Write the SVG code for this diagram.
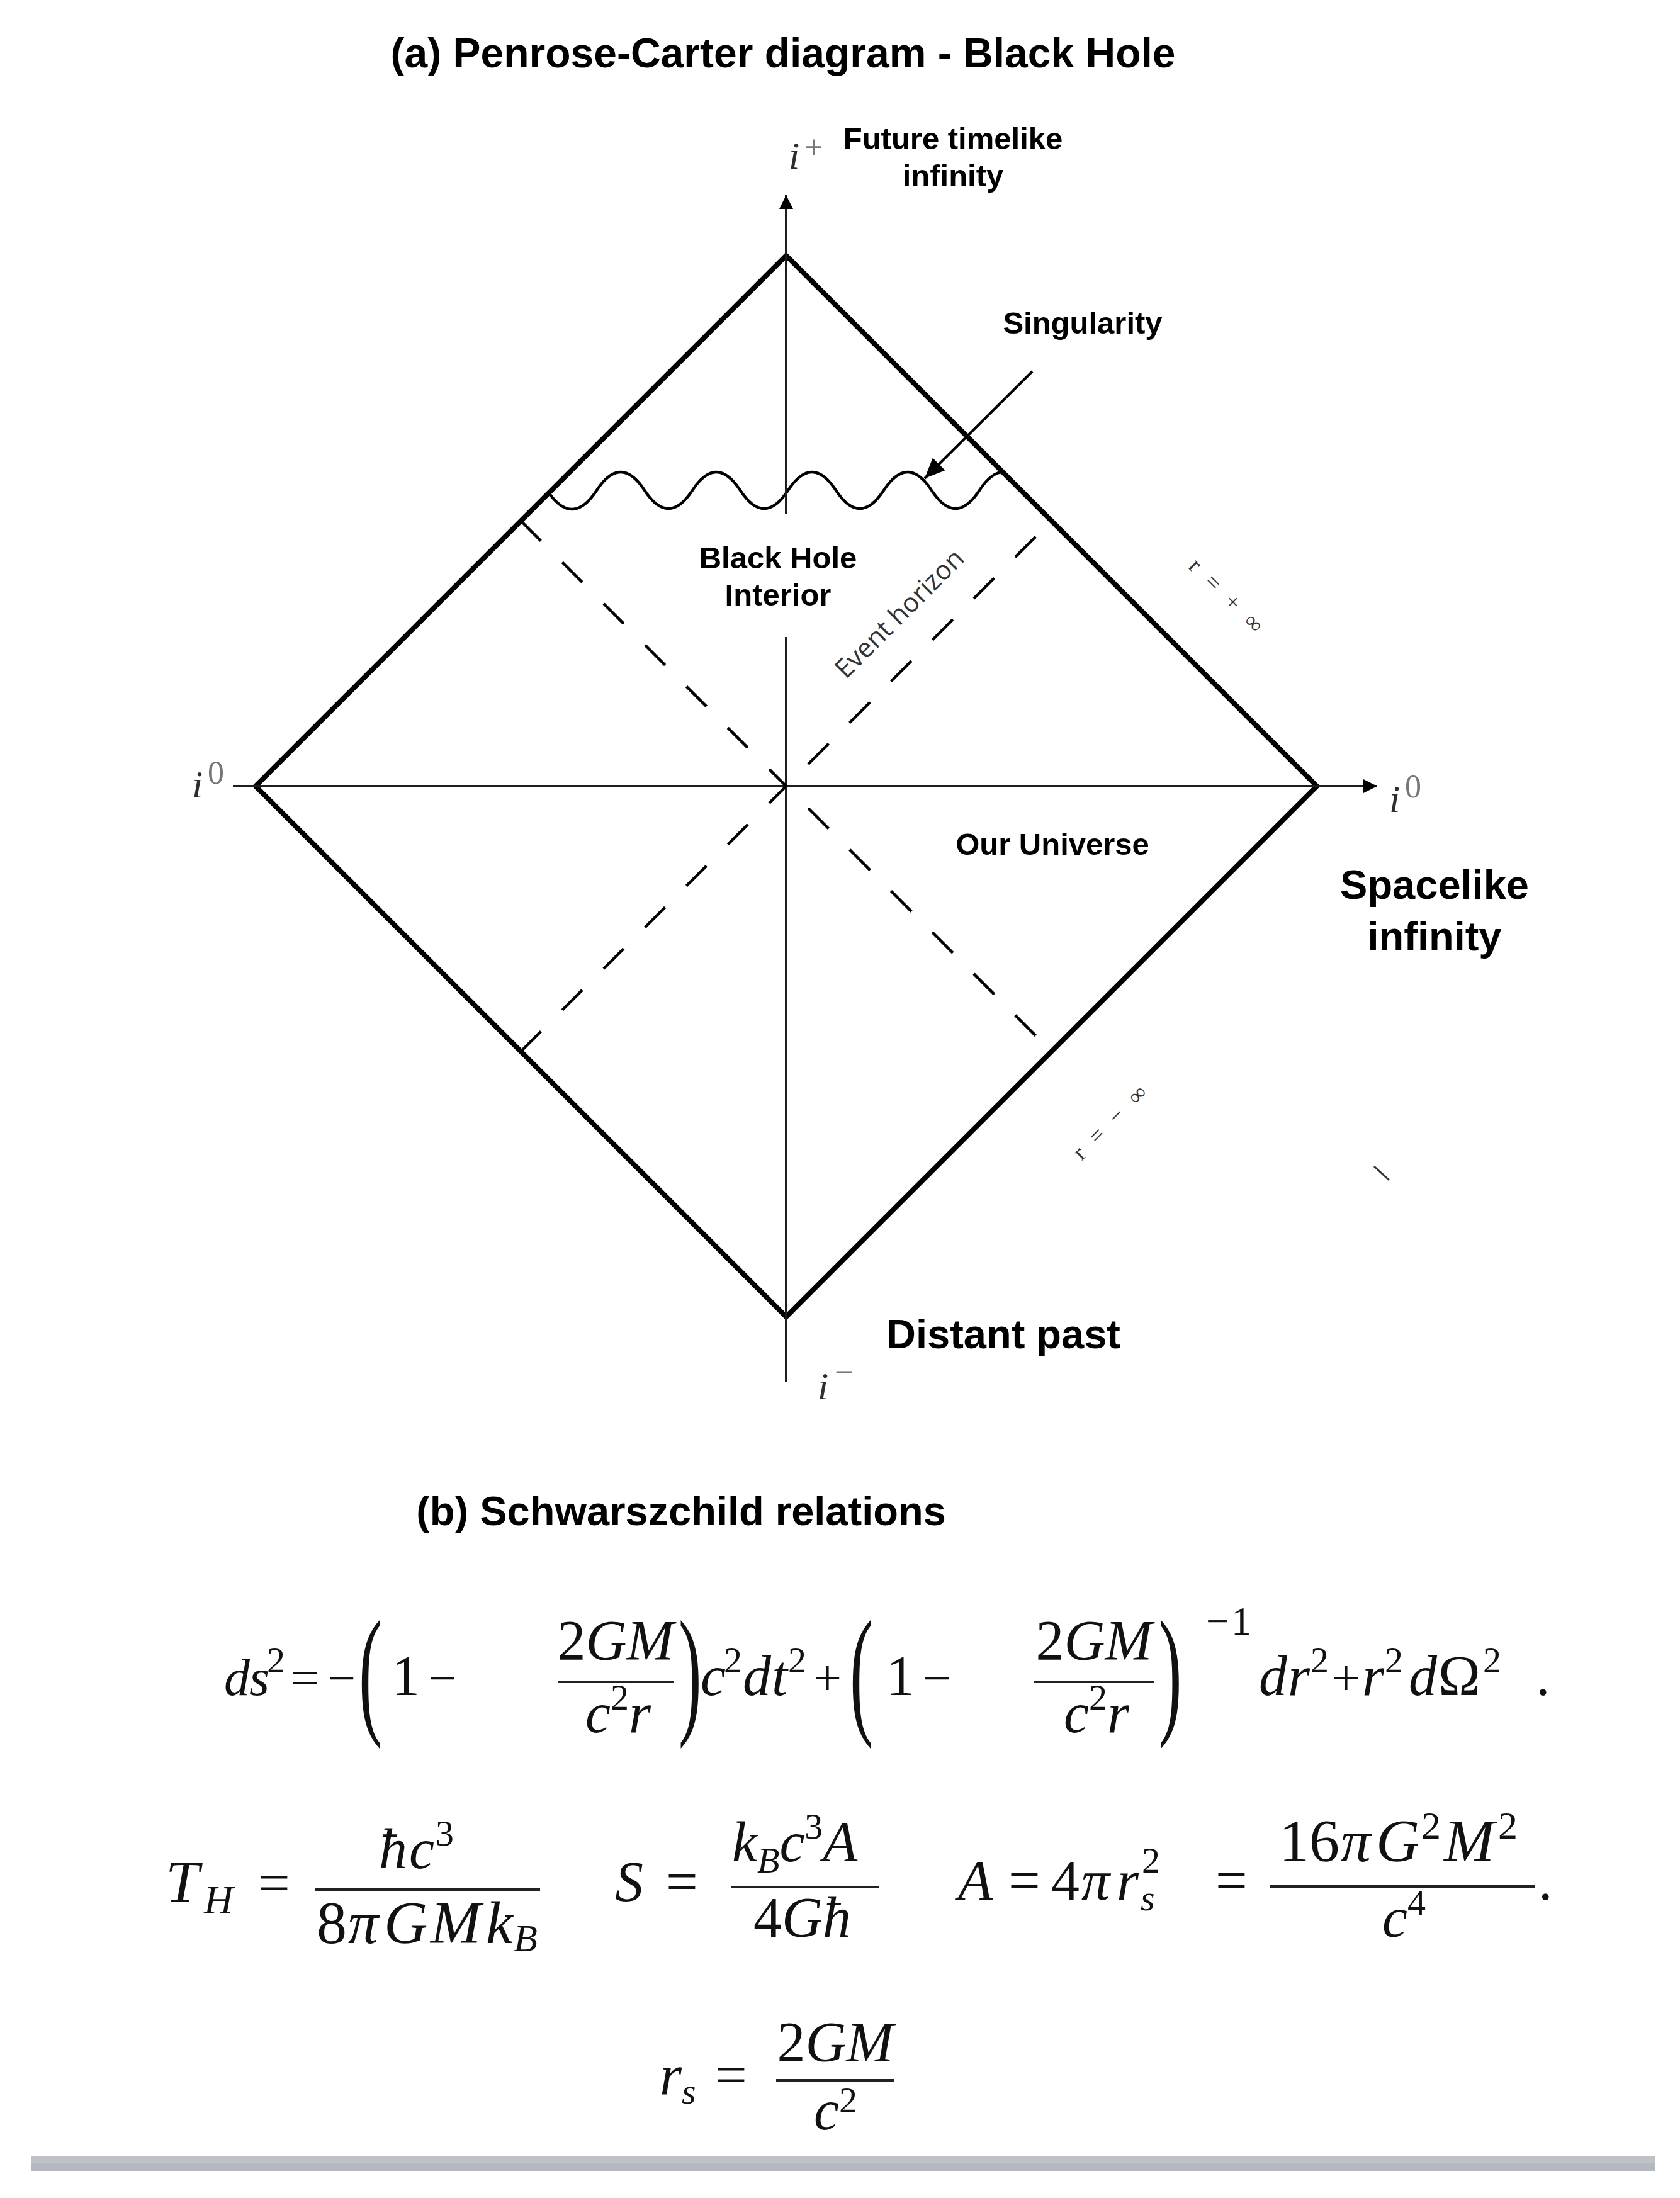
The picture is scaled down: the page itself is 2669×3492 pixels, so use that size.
<svg xmlns="http://www.w3.org/2000/svg" width="2669" height="3492" viewBox="0 0 2669 3492">
<style>
.edge{fill:none;stroke:#000;stroke-width:8;stroke-linejoin:miter}
.axis{stroke:#1e1e1e;stroke-width:4;fill:none}
.dash{stroke:#000;stroke-width:4.5;stroke-dasharray:45 48;fill:none}
.dash2{stroke:#000;stroke-width:4.5;stroke-dasharray:46 47;fill:none}
.wave{fill:none;stroke:#000;stroke-width:4.5}
.lbl{font-family:"Liberation Sans",Arial,sans-serif;font-weight:bold;font-size:49px;fill:#000}
.big{font-size:65px}
.title{font-size:66px}
.pt{font-family:"Liberation Serif","Times New Roman",serif;font-style:italic;font-size:62px;fill:#2e2e2e}
.sup{fill:#777;font-style:normal;font-size:52px}
.eh{font-family:"Open Sans","Liberation Sans",sans-serif;font-size:42px;fill:#333}
.rr{font-family:"Liberation Serif","Times New Roman",serif;font-size:37px;fill:#333;letter-spacing:7px}
.m{font-family:"Liberation Serif","Times New Roman",serif;font-size:90px;fill:#111}
.it{font-style:italic}
.s{font-size:58px}
.op{font-size:80px}
.bar{stroke:#222;stroke-width:4}
</style>
<defs>
<marker id="ah" viewBox="0 0 22 22" refX="22" refY="11" markerWidth="22" markerHeight="22" markerUnits="userSpaceOnUse" orient="auto"><path d="M0,0 L22,11 L0,22 z" fill="#000"/></marker>
<marker id="ah2" viewBox="0 0 32 28" refX="32" refY="14" markerWidth="32" markerHeight="28" markerUnits="userSpaceOnUse" orient="auto"><path d="M0,0 L32,14 L0,28 z" fill="#000"/></marker>
</defs>
<rect width="2669" height="3492" fill="#fff"/>

<g id="title-a"><text class="lbl title" x="1244" y="107" text-anchor="middle">(a) Penrose-Carter diagram - Black Hole</text></g>

<g id="diamond"><polygon class="edge" points="1249,406 2092,1249 1249,2092 406,1249"/></g>

<g id="singularity-line"><path class="wave" d="M872,783 Q910,837 948,779 T1024,779 T1100,779 T1176,779 T1252,779 T1328,779 T1404,779 T1480,779 T1556,779 Q1574,751.5 1592,750"/></g>

<g id="connectors">
<line class="axis" x1="1249" y1="2195" x2="1249" y2="1012"/>
<line class="axis" x1="1249" y1="817" x2="1249" y2="310" marker-end="url(#ah)"/>
<line class="axis" x1="370" y1="1249" x2="2188" y2="1249" marker-end="url(#ah)"/>
<line class="dash" x1="827.5" y1="827.5" x2="1249" y2="1249"/>
<line class="dash" x1="827.5" y1="1670.5" x2="1249" y2="1249"/>
<line class="dash2" x1="1284" y1="1214" x2="1648" y2="850"/>
<line class="dash2" x1="1284" y1="1284" x2="1648" y2="1648"/>
<line stroke="#000" stroke-width="4" x1="1640" y1="590" x2="1469" y2="760" marker-end="url(#ah2)"/>
<line stroke="#333" stroke-width="3" x1="2183" y1="1853" x2="2207" y2="1875"/>
</g>

<g id="i-plus"><text class="pt" x="1253" y="268">i<tspan class="sup" x="1278" y="251" font-size="60">+</tspan></text></g>
<g id="future-label"><text class="lbl" text-anchor="middle"><tspan x="1514" y="237">Future timelike</tspan><tspan x="1514" y="296">infinity</tspan></text></g>
<g id="singularity-label"><text class="lbl" x="1720" y="530" text-anchor="middle">Singularity</text></g>
<g id="bh-label"><text class="lbl" text-anchor="middle"><tspan x="1236" y="903">Black Hole</tspan><tspan x="1236" y="962">Interior</tspan></text></g>
<g id="eh-label"><text class="eh" transform="translate(1439,985) rotate(-45)" text-anchor="middle">Event horizon</text></g>
<g id="r-plus"><text class="rr" transform="translate(1942,957) rotate(45)" text-anchor="middle">r = + ∞</text></g>
<g id="i0-left"><text class="pt" x="305" y="1267">i<tspan class="sup" x="330" y="1245">0</tspan></text></g>
<g id="i0-right"><text class="pt" x="2207" y="1290">i<tspan class="sup" x="2232" y="1267">0</tspan></text></g>
<g id="universe-label"><text class="lbl" x="1672" y="1358" text-anchor="middle">Our Universe</text></g>
<g id="spacelike-label"><text class="lbl big" text-anchor="middle"><tspan x="2279" y="1428">Spacelike</tspan><tspan x="2279" y="1510">infinity</tspan></text></g>
<g id="r-minus"><text class="rr" transform="translate(1774,1789) rotate(-45)" text-anchor="middle">r = − ∞</text></g>
<g id="distant-label"><text class="lbl big" x="1594" y="2142" text-anchor="middle">Distant past</text></g>
<g id="i-minus"><text class="pt" x="1299" y="2223">i<tspan class="sup" x="1326" y="2197">−</tspan></text></g>

<g id="title-b"><text class="lbl big" x="1082" y="2423" text-anchor="middle">(b) Schwarszchild relations</text></g>

<g id="eq-metric" class="m">
<text x="356" y="2693" font-size="82"><tspan class="it">d</tspan><tspan class="it" x="396">s</tspan><tspan class="s" x="424" y="2657" font-size="50">2</tspan></text>
<text class="op" x="462" y="2693">=</text>
<text class="op" x="520" y="2693" font-size="72">−</text>
<text transform="translate(570,2730) scale(1.1,2.25)" font-size="100">(</text>
<text x="622" y="2693">1</text>
<text class="op" x="680" y="2693" font-size="74">−</text>
<text x="978" y="2637" text-anchor="middle">2<tspan class="it">GM</tspan></text>
<line class="bar" x1="887" y1="2672" x2="1070" y2="2672"/>
<text x="982" y="2752" text-anchor="middle"><tspan class="it">c</tspan><tspan class="s" dy="-36">2</tspan><tspan class="it" dy="36">r</tspan></text>
<text transform="translate(1078,2730) scale(1.1,2.25)" font-size="100">)</text>
<text x="1113" y="2693"><tspan class="it">c</tspan><tspan class="s" x="1150" y="2657" font-size="52">2</tspan><tspan class="it" x="1180" y="2693">d</tspan><tspan class="it" x="1226" y="2693">t</tspan><tspan class="s" x="1252" y="2657" font-size="52">2</tspan></text>
<text class="op" x="1292" y="2693">+</text>
<text transform="translate(1350,2730) scale(1.1,2.25)" font-size="100">(</text>
<text x="1408" y="2693">1</text>
<text class="op" x="1466" y="2693" font-size="74">−</text>
<text x="1738" y="2637" text-anchor="middle">2<tspan class="it">GM</tspan></text>
<line class="bar" x1="1642" y1="2672" x2="1833" y2="2672"/>
<text x="1742" y="2752" text-anchor="middle"><tspan class="it">c</tspan><tspan class="s" dy="-36">2</tspan><tspan class="it" dy="36">r</tspan></text>
<text transform="translate(1841,2730) scale(1.1,2.25)" font-size="100">)</text>
<text x="1916" y="2597" font-size="64">−<tspan x="1956">1</tspan></text>
<text x="2000" y="2693"><tspan class="it">d</tspan><tspan class="it" x="2046">r</tspan><tspan class="s" x="2082" y="2657" font-size="52">2</tspan></text>
<text class="op" x="2116" y="2693" font-size="70">+</text>
<text x="2164" y="2693"><tspan class="it">r</tspan><tspan class="s" x="2200" y="2657" font-size="52">2</tspan><tspan class="it" x="2238" y="2693">d</tspan><tspan x="2285" y="2693">Ω</tspan><tspan class="s" x="2356" y="2657" font-size="52">2</tspan><tspan x="2440" y="2693">.</tspan></text>
</g>

<g id="eq-thermo" class="m">
<text x="263" y="3022" font-size="96"><tspan class="it">T</tspan><tspan class="it" x="324" y="3040" font-size="64">H</tspan></text>
<text x="410" y="3022">=</text>
<text x="602" y="2968"><tspan class="it">ħ</tspan><tspan class="it" x="650">c</tspan><tspan class="s" x="692" y="2932">3</tspan></text>
<line class="bar" x1="501" y1="3002" x2="858" y2="3002"/>
<text x="503" y="3087" font-size="96">8<tspan class="it" x="553">π</tspan><tspan class="it" x="610">G</tspan><tspan class="it" x="684">M</tspan><tspan class="it" x="772">k</tspan><tspan class="it" x="816" y="3100" font-size="62">B</tspan></text>
<text x="977" y="3020" class="it">S</text>
<text x="1058" y="3020">=</text>
<text x="1163" y="2957"><tspan class="it">k</tspan><tspan class="s it" y="2975">B</tspan><tspan class="it" y="2957">c</tspan><tspan class="s" y="2921">3</tspan><tspan class="it" y="2957">A</tspan></text>
<line class="bar" x1="1161" y1="2998" x2="1396" y2="2998"/>
<text x="1197" y="3077">4<tspan class="it">Għ</tspan></text>
<text x="1522" y="3018" class="it">A</text>
<text x="1602" y="3018">=</text>
<text x="1670" y="3018">4<tspan class="it" x="1718">π</tspan><tspan class="it" x="1774">r</tspan><tspan class="s it" x="1812" y="3035">s</tspan><tspan class="s" x="1814" y="2975" font-size="62">2</tspan></text>
<text x="1931" y="3018">=</text>
<text x="2032" y="2957" font-size="96">1<tspan x="2080">6</tspan><tspan class="it" x="2130">π</tspan><tspan class="it" x="2186">G</tspan><tspan x="2258" y="2921" font-size="62">2</tspan><tspan class="it" x="2294" y="2957">M</tspan><tspan x="2380" y="2921" font-size="62">2</tspan></text>
<line class="bar" x1="2018" y1="2997" x2="2438" y2="2997"/>
<text x="2196" y="3077"><tspan class="it">c</tspan><tspan class="s" y="3042">4</tspan></text>
<text x="2444" y="3018">.</text>
</g>

<g id="eq-rs" class="m">
<text x="1048" y="3327"><tspan class="it">r</tspan><tspan class="s it" y="3342">s</tspan></text>
<text x="1136" y="3327">=</text>
<text x="1327" y="3275" text-anchor="middle">2<tspan class="it">GM</tspan></text>
<line class="bar" x1="1233" y1="3305" x2="1421" y2="3305"/>
<text x="1293" y="3383"><tspan class="it">c</tspan><tspan class="s" y="3356">2</tspan></text>
</g>

<g id="bottom-bar">
<rect x="49" y="3425" width="2580" height="11" fill="#bfc2c7"/>
<rect x="49" y="3436" width="2580" height="13" fill="#b4b8bf"/>
</g>
</svg>
